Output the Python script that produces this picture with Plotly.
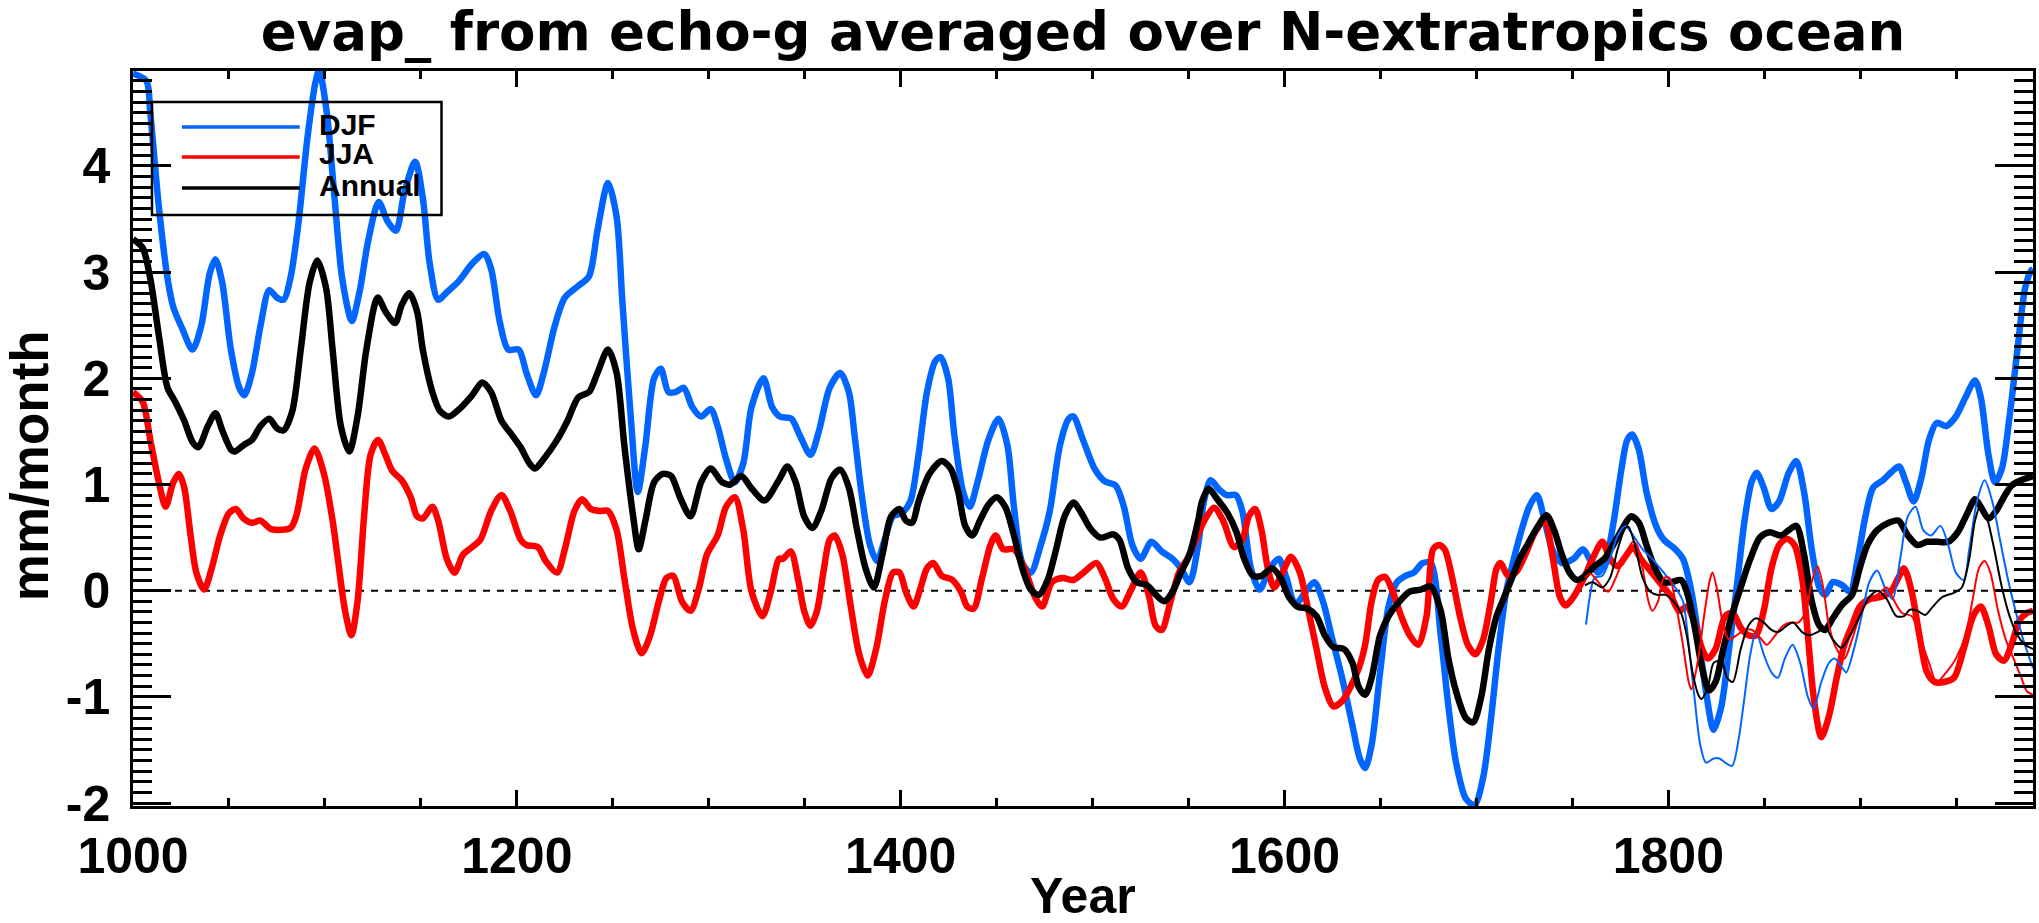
import plotly.graph_objects as go

# ---------------- data ----------------
djf_year = [1000, 1007, 1009, 1013.5, 1018, 1021, 1025.6, 1031, 1035.5, 1040, 1043, 1046.5, 1051, 1055.4, 1058, 1062, 1066.4, 1071, 1075, 1078.5, 1082, 1086, 1091, 1095, 1097, 1101, 1105, 1109, 1114, 1118, 1122.6, 1128, 1132.6, 1137, 1141.4, 1147, 1151, 1154.6, 1159, 1163.5, 1170, 1176.7, 1183, 1186.6, 1191, 1195.5, 1201, 1205, 1210, 1214, 1219.7, 1225, 1232, 1237.6, 1242, 1247.5, 1252, 1255, 1259.5, 1263, 1267, 1271.5, 1275, 1279, 1282.6, 1287, 1291.4, 1296, 1301, 1304.6, 1309, 1313.6, 1318, 1322.3, 1328.5, 1333, 1337, 1343, 1347.5, 1353, 1357.5, 1363, 1368.5, 1373, 1376, 1379.5, 1384, 1387.7, 1391.7, 1396, 1400.5, 1405, 1409.3, 1413.7, 1418, 1420.8, 1424.7, 1428, 1432.5, 1436, 1440, 1445.7, 1451, 1455.6, 1459, 1463.4, 1467.8, 1473, 1477.7, 1483, 1487.6, 1490, 1495, 1501, 1506.4, 1512, 1516.3, 1520.7, 1525, 1530.6, 1536, 1541.7, 1546, 1550.5, 1555, 1558, 1561.5, 1566, 1570, 1574.7, 1578, 1582.5, 1587, 1592.4, 1597, 1601, 1605.6, 1611, 1615.6, 1620, 1624.4, 1630, 1635.4, 1639.2, 1642, 1645.4, 1649.8, 1654.2, 1658.6, 1663, 1667.4, 1672, 1676.2, 1681.4, 1685.4, 1689.4, 1694.5, 1699, 1703.5, 1707.5, 1711.5, 1715.5, 1719.5, 1723.5, 1727.5, 1731.5, 1735.5, 1739.5, 1744.5, 1750.5, 1755.5, 1759.5, 1763.5, 1767.6, 1771.6, 1775.6, 1778.6, 1781.2, 1784.6, 1788.6, 1793.6, 1797.6, 1803.6, 1807.6, 1811.6, 1815.6, 1819.6, 1823.6, 1827.6, 1831.6, 1835.6, 1839.7, 1843.3, 1846, 1849.7, 1853.7, 1857.7, 1862.7, 1866.7, 1870.7, 1874.7, 1878.7, 1881.7, 1885.7, 1890.7, 1894.7, 1898.7, 1902.7, 1906.7, 1911.8, 1915.8, 1920.2, 1923.8, 1927.8, 1931.8, 1935.8, 1939.8, 1944.8, 1949.8, 1954.8, 1959.8, 1962.8, 1966.8, 1970.2, 1973.8, 1977.8, 1981.9, 1985.9, 1988.9, 1990]
djf_val = [4.87, 4.8, 4.5, 3.61, 2.94, 2.67, 2.47, 2.27, 2.49, 2.99, 3.12, 2.9, 2.27, 1.91, 1.84, 2.05, 2.49, 2.83, 2.76, 2.74, 2.94, 3.43, 4.28, 4.78, 4.9, 4.5, 3.7, 2.94, 2.54, 2.81, 3.3, 3.66, 3.48, 3.39, 3.75, 4.04, 3.7, 3.08, 2.74, 2.81, 2.92, 3.08, 3.17, 3.03, 2.54, 2.27, 2.27, 2.05, 1.84, 2.05, 2.49, 2.76, 2.87, 2.96, 3.39, 3.84, 3.52, 2.72, 1.6, 0.93, 1.37, 2.0, 2.09, 1.87, 1.87, 1.91, 1.73, 1.64, 1.71, 1.55, 1.24, 1.02, 1.2, 1.73, 2.0, 1.73, 1.64, 1.62, 1.46, 1.28, 1.51, 1.91, 2.05, 1.87, 1.46, 0.93, 0.43, 0.28, 0.48, 0.7, 0.73, 0.84, 1.28, 1.87, 2.16, 2.2, 2.0, 1.46, 0.93, 0.79, 1.02, 1.42, 1.62, 1.37, 0.79, 0.26, 0.17, 0.43, 0.75, 1.37, 1.62, 1.64, 1.42, 1.15, 1.03, 0.99, 0.79, 0.43, 0.3, 0.46, 0.37, 0.3, 0.21, 0.08, 0.43, 0.84, 1.04, 0.95, 0.9, 0.9, 0.75, 0.21, 0.01, 0.21, 0.3, 0.12, -0.13, -0.01, 0.08, -0.1, -0.42, -0.82, -1.27, -1.58, -1.67, -1.45, -0.77, -0.15, 0.08, 0.14, 0.17, 0.26, 0.26, -0.42, -1.09, -1.62, -1.96, -2.02, -1.76, -1.22, -0.55, -0.01, 0.3, 0.57, 0.79, 0.9, 0.66, 0.39, 0.26, 0.3, 0.39, 0.28, 0.17, 0.3, 0.66, 1.15, 1.42, 1.47, 1.33, 0.93, 0.61, 0.48, 0.39, 0.3, 0.03, -0.42, -0.95, -1.31, -1.09, -0.55, 0.03, 0.66, 1.02, 1.11, 0.97, 0.77, 0.84, 1.11, 1.22, 0.93, 0.39, 0.03, -0.04, 0.08, 0.05, -0.01, 0.3, 0.7, 0.97, 1.04, 1.11, 1.17, 1.02, 0.84, 1.06, 1.42, 1.58, 1.55, 1.64, 1.82, 1.98, 1.82, 1.28, 1.02, 1.15, 1.64, 2.27, 2.85, 3.01, 3.03]

jja_year = [1000, 1005, 1009, 1013.5, 1017, 1021, 1024, 1026.7, 1030, 1033, 1037, 1041, 1045.4, 1050, 1053.6, 1057.6, 1062, 1066.4, 1072, 1082, 1085, 1090, 1094.6, 1099.5, 1104, 1107, 1110.5, 1113.8, 1117, 1120.4, 1123.8, 1127.7, 1131.5, 1135, 1140, 1144.7, 1148, 1151, 1156, 1159, 1163.5, 1167.5, 1172, 1176.7, 1181, 1186.6, 1192, 1196.6, 1202, 1205, 1211, 1215, 1221, 1225, 1230, 1234, 1238.5, 1243, 1247.5, 1252, 1256, 1260.6, 1265, 1269.5, 1274, 1278, 1281.5, 1286, 1290.5, 1295, 1299, 1304.6, 1309, 1313.6, 1318, 1322.3, 1328, 1332.3, 1336.6, 1338.7, 1342.7, 1346.4, 1349.7, 1353, 1356.4, 1359.7, 1363, 1365.6, 1369.6, 1374, 1378.4, 1382.8, 1387.2, 1391.7, 1396, 1399.4, 1402.7, 1406.7, 1410.4, 1413.7, 1417, 1421.4, 1427, 1431.4, 1434.7, 1438, 1442.4, 1446.8, 1449.5, 1453.4, 1459, 1464.5, 1470, 1473.7, 1478.8, 1484.3, 1489.8, 1495.3, 1502, 1506.4, 1510.8, 1515.2, 1519.6, 1525.1, 1529.5, 1532.8, 1536, 1540.6, 1545, 1549.4, 1553.8, 1558.2, 1563.3, 1568, 1573.7, 1578, 1581.4, 1584.7, 1588, 1591.3, 1594.6, 1599, 1603.4, 1608, 1612, 1616.7, 1621, 1625.5, 1630, 1634.3, 1638.7, 1642, 1645.4, 1648.7, 1652.4, 1656.4, 1660.8, 1665.2, 1669.6, 1674, 1677.4, 1680.4, 1683.4, 1687.4, 1691.4, 1695.5, 1699.5, 1703.5, 1707.5, 1710.5, 1712.5, 1716.5, 1720.5, 1725.5, 1730.5, 1735.5, 1739.5, 1743.5, 1746.5, 1750.5, 1755.5, 1760.5, 1765.6, 1769.6, 1773.6, 1777.6, 1781.6, 1785.6, 1789.6, 1793.6, 1797.6, 1801.6, 1805.6, 1809.6, 1813.6, 1817.6, 1820.6, 1824.6, 1829.6, 1833.6, 1837.7, 1841.7, 1845.7, 1849.7, 1853.7, 1857.7, 1861.7, 1865.7, 1869.7, 1872.7, 1875.7, 1879.7, 1883.7, 1887.7, 1891.7, 1895.7, 1899.7, 1904.7, 1910.7, 1915.8, 1919.8, 1922.8, 1926.8, 1930.8, 1934.8, 1938.8, 1943.8, 1948.8, 1953.9, 1958.8, 1962.8, 1966.8, 1970.8, 1974.8, 1978.8, 1982.9, 1986.9, 1990]
jja_val = [1.87, 1.78, 1.42, 1.02, 0.79, 1.02, 1.1, 0.97, 0.52, 0.17, 0.01, 0.21, 0.52, 0.73, 0.77, 0.68, 0.64, 0.66, 0.58, 0.59, 0.7, 1.15, 1.34, 1.1, 0.66, 0.26, -0.19, -0.42, -0.1, 0.7, 1.28, 1.42, 1.28, 1.13, 1.04, 0.88, 0.7, 0.68, 0.79, 0.66, 0.3, 0.17, 0.34, 0.41, 0.48, 0.75, 0.9, 0.75, 0.48, 0.43, 0.41, 0.28, 0.17, 0.39, 0.75, 0.86, 0.77, 0.75, 0.75, 0.57, 0.12, -0.37, -0.59, -0.42, -0.1, 0.12, 0.14, -0.1, -0.19, 0.03, 0.34, 0.52, 0.79, 0.88, 0.57, -0.01, -0.24, -0.01, 0.3, 0.3, 0.37, 0.12, -0.19, -0.33, -0.19, 0.17, 0.48, 0.52, 0.34, -0.15, -0.6, -0.8, -0.55, -0.1, 0.17, 0.17, -0.01, -0.15, 0.03, 0.21, 0.26, 0.14, 0.1, -0.01, -0.15, -0.17, 0.12, 0.43, 0.52, 0.39, 0.39, 0.21, -0.06, -0.15, 0.08, 0.12, 0.1, 0.17, 0.26, 0.12, -0.08, -0.15, -0.01, 0.17, -0.06, -0.33, -0.37, -0.1, 0.17, 0.3, 0.48, 0.66, 0.78, 0.66, 0.41, 0.48, 0.7, 0.77, 0.57, 0.21, 0.03, 0.17, 0.32, 0.17, -0.15, -0.55, -0.91, -1.09, -1.04, -0.91, -0.73, -0.51, -0.1, 0.1, 0.13, -0.01, -0.24, -0.42, -0.51, -0.24, 0.39, 0.43, 0.39, 0.12, -0.24, -0.51, -0.6, -0.46, -0.1, 0.21, 0.26, 0.14, 0.17, 0.34, 0.55, 0.66, 0.34, -0.06, -0.14, -0.06, 0.1, 0.3, 0.46, 0.3, 0.23, 0.32, 0.41, 0.3, 0.21, 0.12, 0.03, -0.06, -0.19, -0.15, -0.3, -0.55, -0.64, -0.55, -0.24, -0.21, -0.35, -0.42, -0.42, -0.19, 0.21, 0.43, 0.49, 0.43, 0.12, -0.42, -1.0, -1.38, -1.18, -0.82, -0.51, -0.33, -0.15, -0.08, -0.06, -0.01, 0.12, 0.21, -0.01, -0.42, -0.77, -0.86, -0.86, -0.82, -0.55, -0.24, -0.15, -0.33, -0.6, -0.66, -0.51, -0.28, -0.21, -0.19]

ann_year = [1000, 1005, 1009, 1013.5, 1018, 1022, 1026.7, 1031, 1034, 1039, 1043, 1046.5, 1051, 1053, 1057.6, 1062, 1066.4, 1071, 1075, 1078.5, 1083, 1087.4, 1092, 1096, 1100.6, 1104, 1108.3, 1112.7, 1117, 1121.6, 1127.5, 1131.5, 1136.6, 1140, 1144, 1148, 1151, 1156, 1160, 1164.6, 1170, 1176.7, 1182, 1186.6, 1192, 1197.7, 1202, 1206.5, 1209.4, 1214, 1221, 1226.4, 1232, 1237.6, 1242, 1247.5, 1252, 1256, 1260.6, 1263.5, 1267, 1271.5, 1276, 1280.4, 1285, 1290.5, 1296, 1301, 1307, 1311.3, 1317, 1322, 1329, 1336.5, 1341, 1345.3, 1349.7, 1354, 1358.6, 1364, 1368.5, 1373, 1377.3, 1381.7, 1386, 1390.5, 1395, 1399.4, 1402.7, 1406, 1409.3, 1415, 1421.4, 1426, 1430, 1433.6, 1437.3, 1441.3, 1445.7, 1450, 1454.5, 1459, 1463.4, 1467.8, 1472, 1476.6, 1481, 1485.4, 1490, 1494.2, 1498.6, 1504, 1510.8, 1514, 1518.5, 1523, 1528.4, 1533, 1537.3, 1541.7, 1546, 1550.5, 1555, 1557, 1560.4, 1565, 1570.3, 1575, 1579, 1583.6, 1588, 1593.5, 1598, 1602.3, 1606.7, 1612, 1616.7, 1621, 1625.5, 1631, 1635.4, 1638.7, 1642, 1645.4, 1649.8, 1654.2, 1658.6, 1665.2, 1671, 1676.2, 1681.4, 1685.4, 1689.4, 1694.5, 1698.3, 1702.5, 1706.5, 1710.5, 1714.5, 1718.5, 1722.5, 1726.5, 1731.5, 1736.5, 1740.5, 1744.5, 1748.5, 1752.5, 1756.5, 1761.5, 1766.6, 1770.6, 1775.6, 1780.6, 1784.6, 1788.6, 1792.6, 1797.6, 1801.6, 1806.6, 1809.6, 1813.6, 1817.6, 1821.2, 1824.6, 1828.6, 1832.6, 1837.7, 1842.7, 1847.7, 1852.7, 1858.7, 1862.7, 1866.7, 1870.7, 1874.7, 1878.7, 1881.7, 1885.7, 1890.7, 1895.7, 1899.7, 1903.7, 1908.8, 1914.8, 1919.8, 1924.8, 1929.8, 1934.8, 1939.8, 1945.8, 1950.8, 1955.8, 1959.8, 1962.8, 1966.8, 1970.8, 1974.8, 1978.8, 1983.8, 1990]
ann_val = [3.31, 3.23, 2.94, 2.4, 1.91, 1.78, 1.6, 1.4, 1.35, 1.55, 1.67, 1.51, 1.33, 1.31, 1.37, 1.42, 1.55, 1.62, 1.53, 1.51, 1.69, 2.27, 2.9, 3.11, 2.85, 2.27, 1.55, 1.31, 1.64, 2.27, 2.76, 2.63, 2.52, 2.69, 2.8, 2.63, 2.27, 1.87, 1.69, 1.64, 1.71, 1.84, 1.96, 1.87, 1.6, 1.46, 1.35, 1.2, 1.15, 1.24, 1.42, 1.6, 1.82, 1.87, 2.05, 2.27, 2.05, 1.37, 0.7, 0.39, 0.66, 1.02, 1.1, 1.08, 0.88, 0.7, 1.02, 1.15, 1.02, 1.0, 1.08, 0.97, 0.85, 1.04, 1.17, 1.02, 0.7, 0.59, 0.75, 1.06, 1.14, 0.97, 0.57, 0.21, 0.03, 0.34, 0.7, 0.77, 0.66, 0.64, 0.84, 1.1, 1.22, 1.15, 0.93, 0.61, 0.52, 0.66, 0.81, 0.88, 0.79, 0.52, 0.21, 0.01, -0.04, 0.1, 0.39, 0.7, 0.83, 0.73, 0.59, 0.5, 0.53, 0.48, 0.21, 0.08, 0.05, -0.04, -0.1, -0.01, 0.17, 0.34, 0.66, 0.84, 0.96, 0.86, 0.73, 0.55, 0.3, 0.14, 0.14, 0.21, 0.12, -0.06, -0.15, -0.17, -0.24, -0.42, -0.53, -0.55, -0.68, -0.91, -0.98, -0.82, -0.42, -0.24, -0.13, -0.01, 0.01, 0.04, -0.19, -0.64, -0.95, -1.2, -1.24, -1.0, -0.55, -0.24, -0.06, 0.12, 0.3, 0.43, 0.59, 0.71, 0.57, 0.34, 0.17, 0.1, 0.14, 0.23, 0.3, 0.41, 0.57, 0.7, 0.64, 0.43, 0.23, 0.08, 0.08, 0.1, -0.01, -0.33, -0.73, -0.94, -0.86, -0.55, -0.26, 0.03, 0.3, 0.5, 0.55, 0.52, 0.57, 0.61, 0.34, -0.1, -0.33, -0.37, -0.26, -0.13, -0.04, 0.21, 0.43, 0.57, 0.64, 0.66, 0.52, 0.43, 0.46, 0.46, 0.46, 0.55, 0.73, 0.86, 0.79, 0.68, 0.75, 0.88, 0.99, 1.04, 1.08]

# second (thin) set of curves, 1757-1990
djf2_year = [1757.1, 1759.5, 1761.5, 1765.6, 1769.6, 1773.6, 1777.6, 1781.6, 1786.6, 1791.6, 1797.6, 1803.6, 1807.6, 1810.6, 1813.6, 1816.6, 1819.6, 1823.6, 1826.6, 1829.6, 1833.2, 1836.6, 1839.7, 1842.7, 1845.7, 1849.7, 1853.7, 1857, 1860.7, 1864.7, 1868.7, 1872.7, 1875.7, 1879.7, 1883.7, 1886.7, 1890.7, 1892.7, 1896.7, 1900.7, 1904.7, 1908.8, 1912.8, 1916.8, 1920.8, 1924.8, 1928.8, 1932.8, 1936.8, 1941.8, 1945.8, 1949.8, 1953.9, 1956.8, 1960.8, 1964.8, 1968.8, 1972.8, 1976.8, 1980.9, 1984.9, 1990]
djf2_val = [-0.32, -0.01, 0.12, 0.14, 0.3, 0.52, 0.61, 0.52, 0.39, 0.3, 0.17, 0.03, -0.1, -0.51, -1.0, -1.45, -1.62, -1.58, -1.58, -1.62, -1.65, -1.4, -1.0, -0.6, -0.39, -0.6, -0.77, -0.82, -0.64, -0.51, -0.68, -1.0, -1.11, -0.86, -0.68, -0.64, -0.73, -0.77, -0.55, -0.24, 0.08, 0.19, 0.03, -0.08, 0.3, 0.7, 0.79, 0.57, 0.52, 0.61, 0.43, 0.17, 0.1, 0.39, 0.84, 1.04, 0.84, 0.48, 0.12, -0.19, -0.46, -0.73]

jja2_year = [1756.5, 1759.5, 1763.5, 1768.6, 1772.6, 1776.6, 1781.6, 1783.6, 1786.6, 1789.6, 1791.6, 1794.6, 1797.6, 1800.6, 1803.6, 1807.6, 1810.6, 1812, 1815.6, 1818.6, 1821.6, 1823, 1825.6, 1828.6, 1831.6, 1835.6, 1839.7, 1843.7, 1847.7, 1851.3, 1855.7, 1859.7, 1863.7, 1867.7, 1871.7, 1874.7, 1877.7, 1880.7, 1883.7, 1887.7, 1891.7, 1895.7, 1899.7, 1903.7, 1908.8, 1913.8, 1917.8, 1921.8, 1926.8, 1930.8, 1935.8, 1939.8, 1944.8, 1949.8, 1954.8, 1958.8, 1961.8, 1964.8, 1967.8, 1971.8, 1975.8, 1979.9, 1983.9, 1986.9, 1990]
jja2_val = [0.12, 0.16, 0.08, -0.01, 0.12, 0.3, 0.46, 0.43, 0.21, -0.1, -0.19, -0.1, 0.12, 0.12, -0.1, -0.51, -0.86, -0.93, -0.64, -0.24, 0.1, 0.17, -0.01, -0.33, -0.46, -0.42, -0.37, -0.37, -0.44, -0.51, -0.42, -0.33, -0.3, -0.3, -0.19, 0.08, 0.23, 0.03, -0.33, -0.55, -0.64, -0.46, -0.24, -0.1, -0.04, 0.03, -0.1, -0.21, -0.24, -0.42, -0.68, -0.86, -0.77, -0.64, -0.42, -0.06, 0.21, 0.28, 0.17, -0.19, -0.46, -0.64, -0.82, -0.95, -0.98]

ann2_year = [1756.5, 1760.5, 1765.6, 1769.6, 1773.6, 1777.6, 1779.2, 1782.6, 1786.6, 1790.6, 1794.6, 1798.6, 1802.6, 1806.6, 1809.6, 1812.6, 1815.6, 1817.2, 1820.6, 1823.6, 1827.6, 1830.6, 1833.6, 1837.7, 1841.7, 1845.7, 1849.7, 1853.7, 1857, 1861.7, 1865, 1869.7, 1873.7, 1877.7, 1881.7, 1885.7, 1890.1, 1894.7, 1899.7, 1904.7, 1909.4, 1913.8, 1918.8, 1922.8, 1925.8, 1929.8, 1933.8, 1937.8, 1942.8, 1948.8, 1952.9, 1956.8, 1959.8, 1962.8, 1965.8, 1969.8, 1973.8, 1977.8, 1981.9, 1985.9, 1990]
ann2_val = [0.05, 0.08, 0.03, 0.12, 0.39, 0.59, 0.6, 0.43, 0.12, -0.01, -0.04, -0.04, -0.1, -0.21, -0.42, -0.77, -0.98, -1.02, -0.91, -0.68, -0.66, -0.82, -0.86, -0.55, -0.33, -0.26, -0.3, -0.37, -0.39, -0.33, -0.3, -0.39, -0.42, -0.39, -0.35, -0.46, -0.54, -0.42, -0.24, -0.06, 0.0, -0.08, -0.24, -0.24, -0.18, -0.19, -0.23, -0.15, -0.06, -0.02, 0.03, 0.3, 0.66, 0.81, 0.7, 0.39, 0.03, -0.24, -0.42, -0.51, -0.55]

title_text = "evap_ from echo-g averaged over N-extratropics ocean"
legend_names = ["DJF", "JJA", "Annual"]
y_ticks = [-2, -1, 0, 1, 2, 3, 4]
y_ticktext = ["-2", "-1", "0", "1", "2", "3", "4"]
x_ticks = [1000, 1200, 1400, 1600, 1800]

# ---------------- style ----------------
BLUE = "#0066ff"
RED = "#ff0000"
BLACK = "#000000"
W, H = 2039, 923
L, R, T, B = 133, 3, 71, 117
FONT = "Liberation Sans"

def px_x(px):
    return (px - L) / (W - L - R)

def px_y(py):
    return 1 - (py - T) / (H - T - B)

fig = go.Figure()
thick = 6.5
thin = 2
for xs, ys, col, w in [
    (djf_year, djf_val, BLUE, thick),
    (jja_year, jja_val, RED, thick),
    (ann_year, ann_val, BLACK, thick),
    (djf2_year, djf2_val, BLUE, thin),
    (jja2_year, jja2_val, RED, thin),
    (ann2_year, ann2_val, BLACK, thin),
]:
    fig.add_trace(go.Scatter(x=xs, y=ys, mode="lines",
                             line=dict(color=col, width=w, shape="spline", smoothing=0.8),
                             showlegend=False, hoverinfo="skip"))

# zero reference line
fig.add_shape(type="line", xref="paper", yref="y", x0=0, x1=1, y0=0, y1=0,
              line=dict(color="black", width=2, dash="7px,7px"), layer="below")

# legend (drawn box)
fig.add_shape(type="rect", xref="paper", yref="paper",
              x0=px_x(152), x1=px_x(442), y0=px_y(102), y1=px_y(215),
              line=dict(color="black", width=2.5), fillcolor="rgba(0,0,0,0)")
leg_y = [127, 157, 188]
for name, col, yy in zip(legend_names, [BLUE, RED, BLACK], leg_y):
    fig.add_shape(type="line", xref="paper", yref="paper",
                  x0=px_x(182), x1=px_x(300), y0=px_y(yy), y1=px_y(yy),
                  line=dict(color=col, width=3.5))
    fig.add_annotation(xref="paper", yref="paper", x=px_x(317), y=px_y(yy - 3),
                       text=name, showarrow=False, xanchor="left", yanchor="middle",
                       font=dict(family=FONT, size=30, color="black", weight="bold"))

# axis titles
fig.add_annotation(xref="paper", yref="paper", x=0.5, y=px_y(926),
                   text="Year", showarrow=False, xanchor="center", yanchor="bottom",
                   font=dict(family=FONT, size=50, color="black", weight="bold"))
fig.add_annotation(xref="paper", yref="paper", x=px_x(29), y=px_y(466),
                   text="mm/month", showarrow=False, textangle=-90,
                   xanchor="center", yanchor="middle",
                   font=dict(family=FONT, size=53, color="black", weight="bold"))

axis_common = dict(showgrid=False, zeroline=False, showline=True, linecolor="black",
                   linewidth=2.5, mirror="ticks", ticks="inside", tickcolor="black",
                   tickwidth=2.5,
                   tickfont=dict(family=FONT, size=50, color="black", weight="bold"))

fig.update_xaxes(range=[1000, 1990], tickvals=x_ticks, ticklen=16,
                 minor=dict(dtick=50, ticklen=8, tickwidth=2.5, tickcolor="black", ticks="inside"),
                 ticklabelstandoff=4, **axis_common)
fig.update_yaxes(range=[-2.028, 4.894], tickvals=y_ticks, ticktext=y_ticktext, ticklen=38,
                 minor=dict(dtick=0.1, ticklen=19, tickwidth=2.5, tickcolor="black", ticks="inside"),
                 ticklabelstandoff=10, **axis_common)

fig.update_layout(
    width=W, height=H,
    margin=dict(l=L, r=R, t=T, b=B, pad=0),
    paper_bgcolor="white", plot_bgcolor="white",
    title=dict(text=title_text, x=0.5, xanchor="center", xref="paper",
               yref="container", y=1 - 13 / H, yanchor="top", pad=dict(t=0, b=0),
               font=dict(family="DejaVu Sans", size=53, color="black", weight="bold")),
    showlegend=False,
)

fig.write_html("out.html", config={"displayModeBar": False},
               post_script="document.body.style.margin='0px';document.body.style.overflow='hidden';")
